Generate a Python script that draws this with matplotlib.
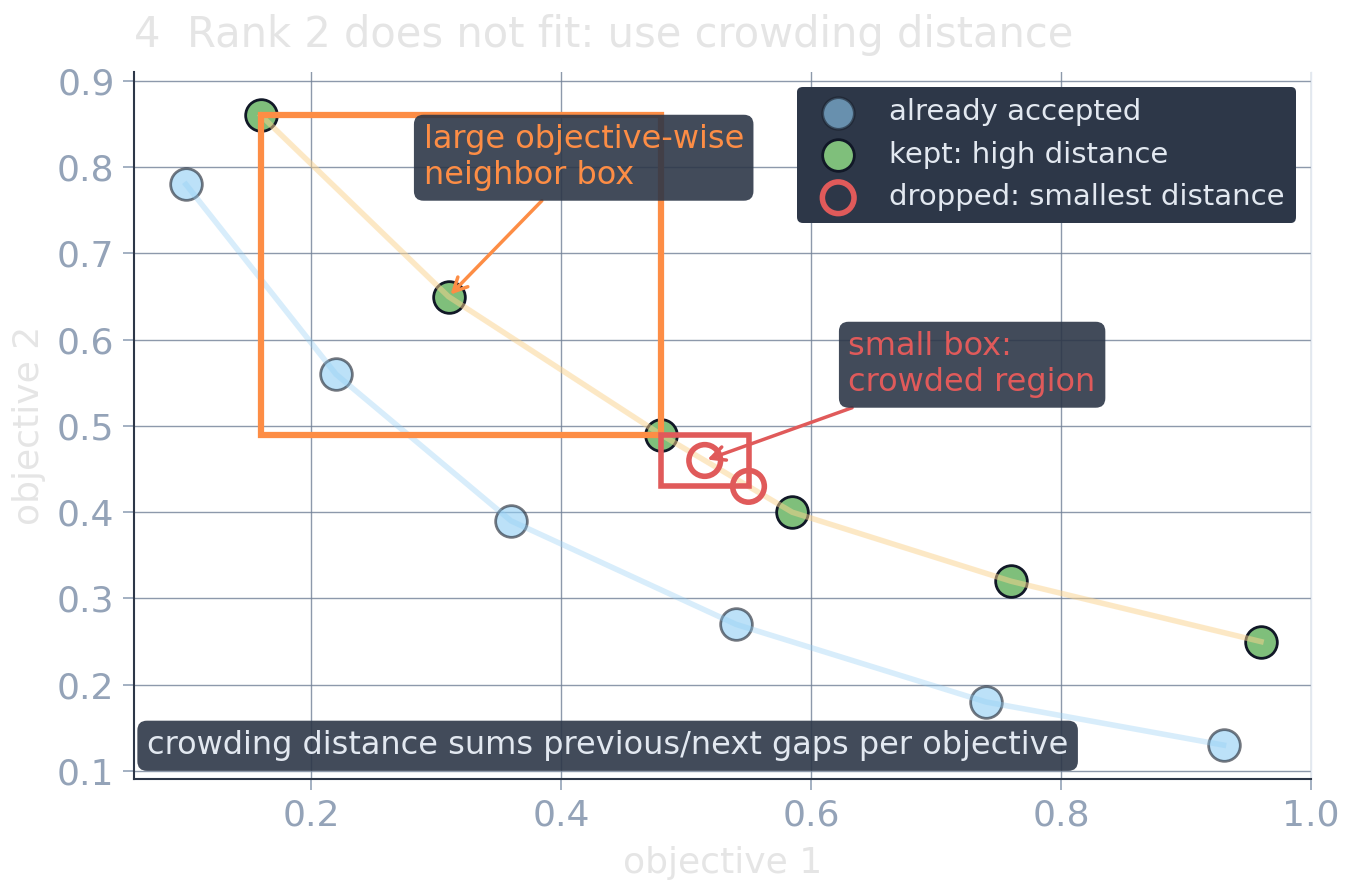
import matplotlib
matplotlib.use("Agg")
import matplotlib.pyplot as plt
from matplotlib.patches import Rectangle

# ---- data ----
accepted_x = [0.10, 0.22, 0.36, 0.54, 0.74, 0.93]
accepted_y = [0.78, 0.56, 0.39, 0.27, 0.18, 0.13]
kept_x = [0.16, 0.31, 0.48, 0.585, 0.76, 0.96]
kept_y = [0.86, 0.65, 0.49, 0.40, 0.32, 0.25]
dropped_x = [0.515, 0.55]
dropped_y = [0.46, 0.43]
rank2_x = [0.16, 0.31, 0.48, 0.515, 0.55, 0.585, 0.76, 0.96]
rank2_y = [0.86, 0.65, 0.49, 0.46, 0.43, 0.40, 0.32, 0.25]
large_box = (0.16, 0.49, 0.48, 0.86)   # x0, y0, x1, y1
small_box = (0.48, 0.43, 0.55, 0.49)
xticks = [0.2, 0.4, 0.6, 0.8, 1.0]
yticks = [0.1, 0.2, 0.3, 0.4, 0.5, 0.6, 0.7, 0.8, 0.9]

title = "4  Rank 2 does not fit: use crowding distance"

BLUE = "#90cdf4"
GREEN = "#7fbf7b"
RED = "#e05a5a"
ORANGE = "#fd8d45"
DARK = "#2d3748"
LIGHT = "#e2e8f0"
TICK = "#94a3b8"

fig = plt.figure(figsize=(13.52, 8.91), dpi=100)
ax = fig.add_axes([134/1352, 1-779/891, (1311-134)/1352, (779-72)/891])
ax.set_xlim(0.0584, 1.0)
ax.set_ylim(0.0907, 0.9104)

ax.grid(True, color="#718096", alpha=0.8, lw=1.0, zorder=0)
ax.set_axisbelow(True)
ax.set_xticks(xticks)
ax.set_yticks(yticks)
ax.set_xticklabels([f"{v:.1f}" for v in xticks])
ax.set_yticklabels([f"{v:.1f}" for v in yticks])
ax.tick_params(colors=TICK, labelsize=26, length=8, width=1.2, pad=6)
for s in ["left", "bottom"]:
    ax.spines[s].set_color(DARK)
    ax.spines[s].set_linewidth(1.5)
ax.spines["top"].set_visible(False)
ax.spines["right"].set_color(LIGHT)
ax.spines["right"].set_linewidth(1.0)

ax.scatter(accepted_x, accepted_y, s=520, color=BLUE, alpha=0.6,
           edgecolor="#1a202c", linewidth=2, zorder=3, label="already accepted")
ax.scatter(kept_x, kept_y, s=520, color=GREEN, edgecolor="#111827",
           linewidth=2, zorder=3, label="kept: high distance")
ax.scatter(dropped_x, dropped_y, s=520, facecolor="none", edgecolor=RED,
           linewidth=4, zorder=5, label="dropped: smallest distance")

ax.plot(accepted_x, accepted_y, color=BLUE, alpha=0.35, lw=4, zorder=4)
ax.plot(rank2_x, rank2_y, color="#fbd38d", alpha=0.5, lw=4, zorder=4)

x0, y0, x1, y1 = large_box
ax.add_patch(Rectangle((x0, y0), x1-x0, y1-y0, fill=False, edgecolor=ORANGE,
                       lw=4.5, zorder=4))
x0, y0, x1, y1 = small_box
ax.add_patch(Rectangle((x0, y0), x1-x0, y1-y0, fill=False, edgecolor=RED,
                       lw=4, zorder=4))

bbox = dict(boxstyle="round,pad=0.3", fc=DARK, ec="none", alpha=0.9)
ax.annotate("large objective-wise\nneighbor box", xy=(kept_x[1], kept_y[1]),
            xytext=(0.29, 0.811), ha="left", va="center", color=ORANGE,
            fontsize=23, bbox=bbox, zorder=6,
            arrowprops=dict(arrowstyle="->", color=ORANGE, lw=2.5,
                            mutation_scale=25, shrinkA=0, shrinkB=2))
ax.annotate("small box:\ncrowded region", xy=(dropped_x[0], dropped_y[0]),
            xytext=(0.63, 0.571), ha="left", va="center", color=RED,
            fontsize=23, bbox=bbox, zorder=6,
            arrowprops=dict(arrowstyle="->", color=RED, lw=2.5,
                            mutation_scale=25, shrinkA=0, shrinkB=2))
ax.text(0.011, 0.047, "crowding distance sums previous/next gaps per objective",
        transform=ax.transAxes, ha="left", va="center", color=LIGHT,
        fontsize=23, bbox=bbox, zorder=6)

leg = ax.legend(loc="upper right", fontsize=21, facecolor=DARK, edgecolor="none",
                framealpha=1.0, labelcolor=LIGHT, borderpad=0.4,
                handletextpad=0.75, markerscale=1.0, labelspacing=0.5,
                borderaxespad=0.5)
leg.set_zorder(7)

ax.set_title(title, loc="left", color="#e5e5e5", fontsize=30, pad=18)
ax.set_xlabel("objective 1", color="#e5e5e5", fontsize=26, labelpad=10)
ax.set_ylabel("objective 2", color="#e5e5e5", fontsize=26, labelpad=8)

fig.savefig("out.png", dpi=100)
